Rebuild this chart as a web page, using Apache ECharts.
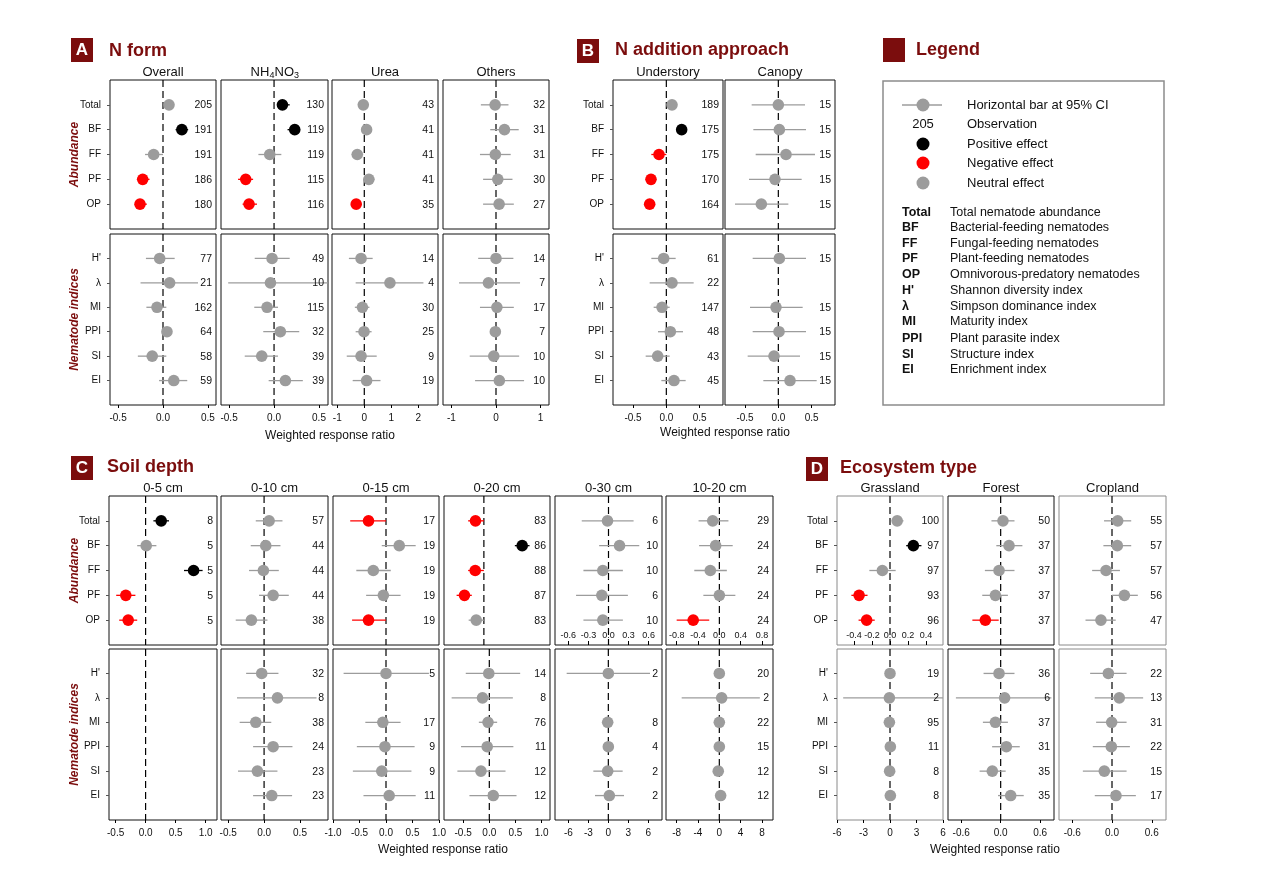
<!DOCTYPE html>
<html><head><meta charset="utf-8">
<script src="https://cdn.jsdelivr.net/npm/echarts@6/dist/echarts.min.js"></script>
<style>html,body{margin:0;padding:0;background:#fff}#c{width:1269px;height:896px}</style>
</head><body><div id="c"></div>
<script>
// ---------- categories ----------
const abundRows = ['Total','BF','FF','PF','OP'];
const indexRows = ["H'",'λ','MI','PPI','SI','EI'];

// ---------- data: [mean, lower 95% CI, upper 95% CI, n, effect]  effect: 'p' positive, 'm' negative, 'n' neutral
const A_Overall_ab = [[0.067,0.04,0.095,205,'n'],[0.21,0.14,0.28,191,'p'],[-0.104,-0.2,0.0,191,'n'],[-0.226,-0.29,-0.15,186,'m'],[-0.256,-0.31,-0.18,180,'m']];
const A_Overall_ix = [[-0.037,-0.19,0.13,77,'n'],[0.074,-0.25,0.39,21,'n'],[-0.067,-0.185,0.037,162,'n'],[0.044,0.02,0.065,64,'n'],[-0.12,-0.28,0.037,58,'n'],[0.12,-0.044,0.27,59,'n']];
const A_NH4NO3_ab = [[0.093,0.033,0.174,130,'p'],[0.23,0.15,0.29,119,'p'],[-0.048,-0.174,0.081,119,'n'],[-0.315,-0.4,-0.233,115,'m'],[-0.278,-0.35,-0.19,116,'m']];
const A_NH4NO3_ix = [[-0.022,-0.215,0.174,49,'n'],[-0.04,-0.51,0.6,10,'n'],[-0.078,-0.22,0.044,115,'n'],[0.07,-0.12,0.28,32,'n'],[-0.137,-0.326,0.044,39,'n'],[0.126,-0.06,0.32,39,'n']];
const A_Urea_ab = [[-0.037,-0.22,0.15,43,'n'],[0.086,-0.1,0.27,41,'n'],[-0.26,-0.47,-0.04,41,'n'],[0.17,-0.04,0.37,41,'n'],[-0.3,-0.49,-0.1,35,'m']];
const A_Urea_ix = [[-0.12,-0.57,0.31,14,'n'],[0.95,-0.32,2.19,4,'n'],[-0.07,-0.35,0.19,30,'n'],[-0.01,-0.32,0.27,25,'n'],[-0.12,-0.65,0.46,9,'n'],[0.086,-0.43,0.6,19,'n']];
const A_Others_ab = [[-0.02,-0.34,0.28,32,'n'],[0.19,-0.13,0.51,31,'n'],[-0.015,-0.36,0.33,31,'n'],[0.04,-0.29,0.37,30,'n'],[0.07,-0.29,0.4,27,'n']];
const A_Others_ix = [[0.0,-0.4,0.39,14,'n'],[-0.17,-0.83,0.54,7,'n'],[0.02,-0.36,0.4,17,'n'],[-0.015,-0.06,0.03,7,'n'],[-0.05,-0.59,0.52,10,'n'],[0.075,-0.47,0.63,10,'n']];
const B_Understory_ab = [[0.085,0.06,0.11,189,'n'],[0.23,0.19,0.27,175,'p'],[-0.11,-0.225,0.0,175,'m'],[-0.23,-0.27,-0.19,170,'m'],[-0.25,-0.29,-0.21,164,'m']];
const B_Understory_ix = [[-0.04,-0.225,0.14,61,'n'],[0.085,-0.25,0.41,22,'n'],[-0.065,-0.19,0.05,147,'n'],[0.06,-0.125,0.25,48,'n'],[-0.13,-0.31,0.05,43,'n'],[0.115,-0.075,0.29,45,'n']];
const B_Canopy_ab = [[0.0,-0.4,0.4,15,'n'],[0.015,-0.375,0.415,15,'n'],[0.115,-0.34,0.55,15,'n'],[-0.05,-0.44,0.35,15,'n'],[-0.255,-0.65,0.15,15,'n']];
const B_Canopy_ix = [[0.015,-0.385,0.415,15,'n'],null,[-0.035,-0.425,0.365,15,'n'],[0.01,-0.385,0.415,15,'n'],[-0.065,-0.46,0.325,15,'n'],[0.175,-0.225,0.575,15,'n']];
const C_0_5_ab = [[0.26,0.13,0.39,8,'p'],[0.01,-0.14,0.18,5,'n'],[0.8,0.64,0.95,5,'p'],[-0.33,-0.49,-0.17,5,'m'],[-0.29,-0.44,-0.14,5,'m']];
const C_0_5_ix = [null,null,null,null,null,null];
const C_0_10_ab = [[0.07,-0.116,0.256,57,'n'],[0.023,-0.186,0.228,44,'n'],[-0.01,-0.21,0.205,44,'n'],[0.126,-0.07,0.344,44,'n'],[-0.177,-0.395,0.047,38,'n']];
const C_0_10_ix = [[-0.033,-0.25,0.2,32,'n'],[0.186,-0.377,0.73,8,'n'],[-0.116,-0.34,0.1,38,'n'],[0.126,-0.153,0.395,24,'n'],[-0.093,-0.363,0.186,23,'n'],[0.107,-0.153,0.39,23,'n']];
const C_0_15_ab = [[-0.33,-0.675,0.0,17,'m'],[0.25,-0.08,0.56,19,'n'],[-0.24,-0.56,0.09,19,'n'],[-0.05,-0.375,0.275,19,'n'],[-0.33,-0.64,0.0,19,'m']];
const C_0_15_ix = [[0.0,-0.8,0.81,5,'n'],null,[-0.06,-0.39,0.275,17,'n'],[-0.02,-0.55,0.54,9,'n'],[-0.08,-0.625,0.48,9,'n'],[0.06,-0.425,0.56,11,'n']];
const C_0_20_ab = [[-0.16,-0.3,0.0,83,'m'],[0.73,0.59,0.87,86,'p'],[-0.165,-0.3,0.0,88,'m'],[-0.37,-0.52,-0.23,87,'m'],[-0.146,-0.29,0.0,83,'n']];
const C_0_20_ix = [[-0.01,-0.45,0.59,14,'n'],[-0.13,-0.72,0.45,8,'n'],[-0.025,-0.2,0.15,76,'n'],[-0.04,-0.54,0.46,11,'n'],[-0.16,-0.61,0.31,12,'n'],[0.076,-0.38,0.52,12,'n']];
const C_0_30_ab = [[-0.015,-0.4,0.375,6,'n'],[0.165,-0.14,0.46,10,'n'],[-0.085,-0.375,0.215,10,'n'],[-0.1,-0.485,0.29,6,'n'],[-0.085,-0.375,0.215,10,'n']];
const C_0_30_ix = [[0.0,-6.25,6.25,2,'n'],null,[-0.1,-0.3,0.1,8,'n'],[0.0,-0.2,0.2,4,'n'],[-0.1,-2.25,2.15,2,'n'],[0.15,-2.0,2.35,2,'n']];
const C_10_20_ab = [[-0.125,-0.39,0.17,29,'n'],[-0.07,-0.38,0.25,24,'n'],[-0.17,-0.47,0.14,24,'n'],[0.0,-0.3,0.3,24,'n'],[-0.49,-0.8,-0.19,24,'m']];
const C_10_20_ix = [[0.0,-0.3,0.3,20,'n'],[0.44,-7.06,7.6,2,'n'],[0.0,-0.3,0.3,22,'n'],[0.0,-0.3,0.3,15,'n'],[-0.2,-0.5,0.1,12,'n'],[0.25,-0.05,0.55,12,'n']];
const D_Grassland_ab = [[0.08,0.02,0.15,100,'n'],[0.26,0.18,0.35,97,'p'],[-0.085,-0.23,0.063,97,'n'],[-0.344,-0.43,-0.25,93,'m'],[-0.26,-0.35,-0.17,96,'m']];
const D_Grassland_ix = [[0.0,-0.2,0.2,19,'n'],[-0.07,-5.3,6.0,2,'n'],[-0.07,-0.25,0.1,95,'n'],[0.04,-0.15,0.2,11,'n'],[-0.04,-0.2,0.1,8,'n'],[0.04,-0.15,0.2,8,'n']];
const D_Forest_ab = [[0.035,-0.14,0.21,50,'n'],[0.127,-0.066,0.33,37,'n'],[-0.025,-0.24,0.21,37,'n'],[-0.08,-0.28,0.11,37,'n'],[-0.233,-0.43,-0.03,37,'m']];
const D_Forest_ix = [[-0.025,-0.26,0.21,36,'n'],[0.06,-0.68,0.77,6,'n'],[-0.08,-0.27,0.11,37,'n'],[0.086,-0.13,0.29,31,'n'],[-0.127,-0.32,0.076,35,'n'],[0.152,-0.04,0.35,35,'n']];
const D_Cropland_ab = [[0.086,-0.12,0.29,55,'n'],[0.08,-0.13,0.29,57,'n'],[-0.09,-0.3,0.12,57,'n'],[0.187,0.0,0.39,56,'n'],[-0.167,-0.4,0.056,47,'n']];
const D_Cropland_ix = [[-0.055,-0.33,0.22,22,'n'],[0.11,-0.26,0.47,13,'n'],[-0.005,-0.24,0.22,31,'n'],[-0.01,-0.29,0.27,22,'n'],[-0.116,-0.44,0.22,15,'n'],[0.06,-0.26,0.36,17,'n']];

// ---------- tick labels ----------
const ticksHalf = [-0.5, 0, 0.5];
const ticksUrea = [-1, 0, 1, 2];
const ticksOne = [-1, 0, 1];
const ticks05 = [-0.5, 0, 0.5, 1];
const ticks15 = [-1, -0.5, 0, 0.5, 1];
const ticks030top = [-0.6, -0.3, 0, 0.3, 0.6];
const ticks030bot = [-6, -3, 0, 3, 6];
const ticks1020top = [-0.8, -0.4, 0, 0.4, 0.8];
const ticks1020bot = [-8, -4, 0, 4, 8];
const ticksGrassTop = [-0.4, -0.2, 0, 0.2, 0.4];
const ticksGrassBot = [-6, -3, 0, 3, 6];
const ticksSix = [-0.6, 0, 0.6];

// ---------- layout ----------
const FF = "'Liberation Sans', Arial, Helvetica, sans-serif";
const DARK = '#7b0d0d';
const TOP_A = [80, 229], BOT_A = [234, 405];
const TOP_C = [496, 645], BOT_C = [649, 820];
const cols = [
  {title:'Overall', x:[110,216], top:TOP_A, bot:BOT_A, ab:A_Overall_ab, ix:A_Overall_ix, rT:[-0.59,0.59], rB:[-0.59,0.59], tB:ticksHalf, dec:1, ylab:true},
  {title:'NH4NO3', sub:true, x:[221,328], top:TOP_A, bot:BOT_A, ab:A_NH4NO3_ab, ix:A_NH4NO3_ix, rT:[-0.59,0.6], rB:[-0.59,0.6], tB:ticksHalf, dec:1},
  {title:'Urea', x:[332,438], top:TOP_A, bot:BOT_A, ab:A_Urea_ab, ix:A_Urea_ix, rT:[-1.196,2.73], rB:[-1.196,2.73], tB:ticksUrea, dec:0},
  {title:'Others', x:[443,549], top:TOP_A, bot:BOT_A, ab:A_Others_ab, ix:A_Others_ix, rT:[-1.19,1.19], rB:[-1.19,1.19], tB:ticksOne, dec:0},
  {title:'Understory', x:[613,723], top:TOP_A, bot:BOT_A, ab:B_Understory_ab, ix:B_Understory_ix, rT:[-0.8,0.85], rB:[-0.8,0.85], tB:ticksHalf, dec:1, ylab:true},
  {title:'Canopy', x:[725,835], top:TOP_A, bot:BOT_A, ab:B_Canopy_ab, ix:B_Canopy_ix, rT:[-0.8,0.85], rB:[-0.8,0.85], tB:ticksHalf, dec:1},
  {title:'0-5 cm', x:[109,217], top:TOP_C, bot:BOT_C, ab:C_0_5_ab, ix:C_0_5_ix, rT:[-0.61,1.19], rB:[-0.61,1.19], tB:ticks05, dec:1, ylab:true},
  {title:'0-10 cm', x:[221,328], top:TOP_C, bot:BOT_C, ab:C_0_10_ab, ix:C_0_10_ix, rT:[-0.6,0.89], rB:[-0.6,0.89], tB:ticksHalf, dec:1},
  {title:'0-15 cm', x:[333,439], top:TOP_C, bot:BOT_C, ab:C_0_15_ab, ix:C_0_15_ix, rT:[-1,1], rB:[-1,1], tB:ticks15, dec:1},
  {title:'0-20 cm', x:[444,550], top:TOP_C, bot:BOT_C, ab:C_0_20_ab, ix:C_0_20_ix, rT:[-0.76,1.26], rB:[-0.866,1.16], tB:ticks05, dec:1},
  {title:'0-30 cm', x:[555,662], top:TOP_C, bot:BOT_C, ab:C_0_30_ab, ix:C_0_30_ix, rT:[-0.8,0.8], rB:[-8,8.05], tT:ticks030top, decT:1, tB:ticks030bot, dec:0},
  {title:'10-20 cm', x:[666,773], top:TOP_C, bot:BOT_C, ab:C_10_20_ab, ix:C_10_20_ix, rT:[-1,1.005], rB:[-10,10.07], tT:ticks1020top, decT:1, tB:ticks1020bot, dec:0},
  {title:'Grassland', x:[837,943], top:TOP_C, bot:BOT_C, ab:D_Grassland_ab, ix:D_Grassland_ix, rT:[-0.59,0.59], rB:[-6,6], tT:ticksGrassTop, decT:1, tB:ticksGrassBot, dec:0, ylab:true, frame:'#8a8a8a'},
  {title:'Forest', x:[948,1054], top:TOP_C, bot:BOT_C, ab:D_Forest_ab, ix:D_Forest_ix, rT:[-0.8,0.81], rB:[-0.8,0.81], tB:ticksSix, dec:1},
  {title:'Cropland', x:[1059,1166], top:TOP_C, bot:BOT_C, ab:D_Cropland_ab, ix:D_Cropland_ix, rT:[-0.8,0.815], rB:[-0.8,0.815], tB:ticksSix, dec:1, frame:'#8a8a8a'}
];

function fmt(dec){ return v => dec ? Number(v).toFixed(dec) : String(Math.round(v)); }

function renderItem(params, api) {
  const cs = params.coordSys;
  const m = api.value(0), y = api.value(1), lo = api.value(2), hi = api.value(3), e = api.value(4), n = api.value(5);
  const pm = api.coord([m, y]);
  let xl = api.coord([lo, y])[0], xh = api.coord([hi, y])[0];
  xl = Math.max(cs.x, xl); xh = Math.min(cs.x + cs.width, xh);
  const col = e > 0 ? '#000000' : (e < 0 ? '#ff0000' : '#9c9c9c');
  return {type:'group', children:[
    {type:'line', shape:{x1:xl, y1:pm[1], x2:xh, y2:pm[1]}, style:{stroke:col, lineWidth:1.3}},
    {type:'circle', shape:{cx:pm[0], cy:pm[1], r:5.8}, style:{fill:col}},
    {type:'text', x: cs.x + cs.width - 4, y: pm[1] + 0.5,
     style:{text:String(n), fill:'#111', fontSize:10.5, fontFamily:FF, align:'right', textAlign:'right', verticalAlign:'middle', textVerticalAlign:'middle'}}
  ]};
}

const option = {animation:false, backgroundColor:'#ffffff', grid:[], xAxis:[], yAxis:[], series:[], graphic:[]};
const effCode = {p:1, m:-1, n:0};

cols.forEach(c => {
  [['ab', c.top, abundRows, true], ['ix', c.bot, indexRows, false]].forEach(([key, yy, cats, isTop]) => {
    const k = option.grid.length;
    const rows = c[key];
    const range = isTop ? c.rT : c.rB;
    const ticks = isTop ? c.tT : c.tB;
    const dec = isTop ? c.decT : c.dec;
    const inside = isTop;
    const ymax = cats.length + 1;
    option.grid.push({left:c.x[0], top:yy[0], width:c.x[1]-c.x[0], height:yy[1]-yy[0], show:true,
      borderColor:c.frame || '#111', borderWidth:1, backgroundColor:'transparent', containLabel:false, outerBoundsMode:'none'});
    option.xAxis.push({gridIndex:k, type:'value', position:'bottom', min:range[0], max:range[1],
      axisLine:{show:false, onZero:false}, splitLine:{show:false},
      axisTick:{show:!!ticks, inside:inside, length:isTop?4:3, customValues:ticks || [], lineStyle:{color:'#000'}},
      axisLabel:{show:!!ticks, inside:inside, customValues:ticks || [], formatter:fmt(dec), showMinLabel:true, showMaxLabel:true,
        fontSize:isTop?9:10, fontFamily:FF, color:'#111', margin:isTop?5:8}});
    const yv = cats.map((_, i) => i + 1);
    option.yAxis.push({gridIndex:k, type:'value', position:'left', inverse:true, min:0, max:ymax,
      axisLine:{show:false, onZero:false}, splitLine:{show:false},
      axisTick:{show:!!c.ylab, length:3, customValues:yv, lineStyle:{color:'#555'}},
      axisLabel:{show:!!c.ylab, customValues:yv, formatter:v => cats[Math.round(v)-1] || '', fontSize:10, fontFamily:FF, color:'#111', margin:9}});
    option.series.push({type:'line', xAxisIndex:k, yAxisIndex:k, silent:true, symbol:'none', z:1,
      data:[[0,0],[0,ymax]], lineStyle:{color:'#000', width:1.2, type:[7,4]}});
    const data = [];
    rows.forEach((r, i) => { if (r) data.push([r[0], i + 1, r[1], r[2], effCode[r[4]], r[3]]); });
    option.series.push({type:'custom', xAxisIndex:k, yAxisIndex:k, silent:true, z:3, renderItem:renderItem, data:data});
  });
});

// ---------- texts ----------
function txt(x, y, text, o) {
  o = o || {};
  const al = o.align || 'left';
  return {type:'text', x:x, y:y, rotation:o.rot || 0, silent:true, z:10,
    style:{text:text, fill:o.color || '#111',
      font:(o.italic ? 'italic ' : '') + (o.bold ? 'bold ' : '') + (o.size || 12) + 'px ' + FF,
      align:al, textAlign:al, verticalAlign:'middle', textVerticalAlign:'middle'}};
}
const G = option.graphic;
function header(bx, by, letter, title, tx, ty) {
  G.push({type:'rect', shape:{x:bx, y:by, width:22, height:24}, style:{fill:DARK}, silent:true});
  if (letter) G.push(txt(bx + 11, by + 12.5, letter, {bold:true, size:17, color:'#fff', align:'center'}));
  G.push(txt(tx, ty, title, {bold:true, size:18, color:DARK}));
}
header(71, 38, 'A', 'N form', 109, 51);
header(577, 39, 'B', 'N addition approach', 615, 50);
header(883, 38, '', 'Legend', 916, 50);
header(71, 456, 'C', 'Soil depth', 107, 467);
header(806, 457, 'D', 'Ecosystem type', 840, 468);

// column titles
cols.forEach(c => {
  const cx = (c.x[0] + c.x[1]) / 2;
  const ty = c.top[0] - 8;
  if (c.sub) {
    const x0 = cx - 24;
    G.push(txt(x0, ty, 'NH', {size:13}));
    G.push(txt(x0 + 19, ty + 4, '4', {size:9}));
    G.push(txt(x0 + 24, ty, 'NO', {size:13}));
    G.push(txt(x0 + 43.5, ty + 4, '3', {size:9}));
  } else {
    G.push(txt(cx, ty, c.title, {size:13, align:'center'}));
  }
});

// axis titles
G.push(txt(330, 436, 'Weighted response ratio', {size:12, align:'center'}));
G.push(txt(725, 433, 'Weighted response ratio', {size:12, align:'center'}));
G.push(txt(443, 850, 'Weighted response ratio', {size:12, align:'center'}));
G.push(txt(995, 850, 'Weighted response ratio', {size:12, align:'center'}));

// row group labels
[[154.5, 'Abundance'], [319.5, 'Nematode indices'], [570.5, 'Abundance'], [734.5, 'Nematode indices']].forEach(([y, t]) => {
  G.push(txt(75, y, t, {size:12, bold:true, italic:true, color:DARK, align:'center', rot:Math.PI/2}));
});

// legend box
G.push({type:'rect', shape:{x:883, y:81, width:281, height:324}, style:{fill:'none', stroke:'#8c8c8c', lineWidth:1.5}, silent:true});
G.push({type:'line', shape:{x1:902, y1:105, x2:942, y2:105}, style:{stroke:'#9c9c9c', lineWidth:1.3}, silent:true});
G.push({type:'circle', shape:{cx:923, cy:105, r:6.5}, style:{fill:'#9c9c9c'}, silent:true});
G.push(txt(923, 124, '205', {size:13, align:'center'}));
G.push({type:'circle', shape:{cx:923, cy:144, r:6.5}, style:{fill:'#000'}, silent:true});
G.push({type:'circle', shape:{cx:923, cy:163, r:6.5}, style:{fill:'#ff0000'}, silent:true});
G.push({type:'circle', shape:{cx:923, cy:183, r:6.5}, style:{fill:'#9c9c9c'}, silent:true});
[['Horizontal bar at 95% CI',105],['Observation',124],['Positive effect',144],['Negative effect',163],['Neutral effect',183]].forEach(([t,y]) => G.push(txt(967, y, t, {size:13})));
const legendAbbr = [
  ['Total','Total nematode abundance',213],['BF','Bacterial-feeding nematodes',228],['FF','Fungal-feeding nematodes',244],
  ['PF','Plant-feeding nematodes',259],['OP','Omnivorous-predatory nematodes',275],["H'",'Shannon diversity index',291],
  ['λ','Simpson dominance index',307],['MI','Maturity index',322],['PPI','Plant parasite index',339],
  ['SI','Structure index',355],['EI','Enrichment index',370]
];
legendAbbr.forEach(([a, d, y]) => {
  G.push(txt(902, y, a, {size:12.5, bold:true}));
  G.push(txt(950, y, d, {size:12.5}));
});

const chart = echarts.init(document.getElementById('c'), null, {renderer:'canvas', width:1269, height:896});
chart.setOption(option);
</script>
</body></html>
